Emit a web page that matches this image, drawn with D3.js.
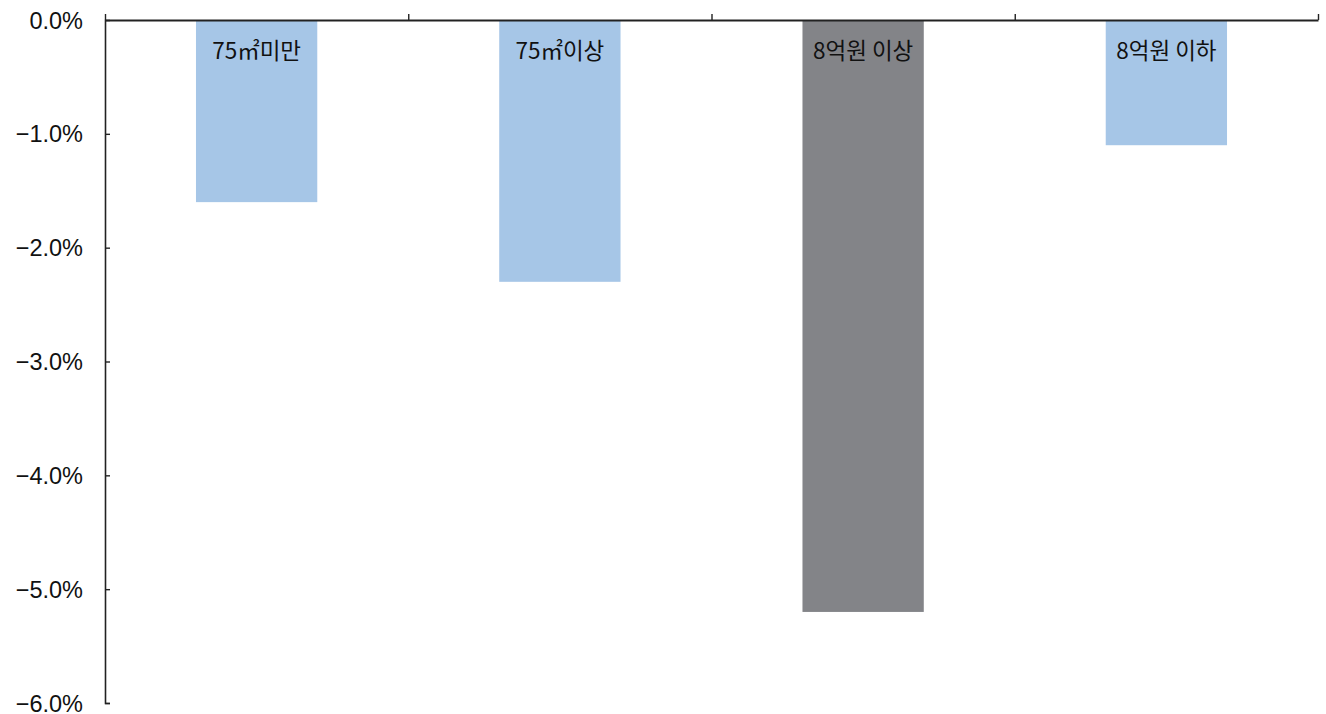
<!DOCTYPE html>
<html><head><meta charset="utf-8">
<script src="https://cdn.jsdelivr.net/npm/d3@7"></script>
<style>body{margin:0;background:#fff}</style>
</head><body>
<svg id="c" width="1326" height="714"></svg>
<script>
const categories = ["75㎡미만", "75㎡이상", "8억원 이상", "8억원 이하"];
const values = [-1.6, -2.3, -5.2, -1.1];
const highlight = [false, false, true, false];
const yTicks = [0, -1, -2, -3, -4, -5, -6];

(function(){
const svg = d3.select("#c");
const mLeft = 105, mRight = 1318, mTop = 20, mBottom = 703;
const x = d3.scaleBand().domain(categories).range([mLeft, mRight]).paddingInner(0).paddingOuter(0);
const y = d3.scaleLinear().domain([0, -6]).range([mTop, mBottom]);

// bars
const bw = x.bandwidth() * 0.4;
svg.selectAll("rect.bar").data(categories).join("rect")
  .attr("class", "bar")
  .attr("x", (d) => x(d) + x.bandwidth()/2 - bw/2)
  .attr("y", y(0))
  .attr("width", bw)
  .attr("height", (d, i) => y(values[i]) - y(0))
  .attr("fill", (d, i) => highlight[i] ? "#838488" : "#A6C6E7");

// y axis
const ya = svg.append("g").attr("transform", `translate(${mLeft},0)`)
  .call(d3.axisRight(y).tickValues(yTicks).tickSize(5).tickFormat(d => (d < 0 ? "\u2212" : "") + Math.abs(d).toFixed(1) + "%"));
ya.attr("font-size", null).attr("font-family", null);
ya.select(".domain").attr("stroke", "#222").attr("stroke-width", 1.6);
ya.selectAll(".tick line").attr("stroke", "#222").attr("stroke-width", 1.4);
ya.selectAll(".tick text").attr("x", -22).attr("text-anchor", "end")
  .style("font-family", "'Liberation Sans', Arial, sans-serif").style("font-size", "23.5px").attr("fill", "#111").attr("dy", "0.34em");
ya.selectAll(".tick").filter(d => d === 0).select("line").remove();

// x axis (top) with ticks at band boundaries
const bounds = categories.map(c => x(c)).concat([mRight]);
const xl = d3.scaleLinear().domain([mLeft, mRight]).range([mLeft, mRight]);
const xa = svg.append("g").attr("transform", `translate(0,${mTop})`)
  .call(d3.axisTop(xl).tickValues(bounds).tickSize(6).tickSizeOuter(0).tickFormat(""));
xa.select(".domain").attr("stroke", "#222").attr("stroke-width", 2);
xa.selectAll(".tick line").attr("stroke", "#222").attr("stroke-width", 1.4);

// category labels
svg.selectAll("text.cat").data(categories).join("text")
  .attr("class", "cat")
  .attr("x", d => x(d) + x.bandwidth()/2)
  .attr("y", 51)
  .attr("dy", "0.36em")
  .attr("text-anchor", "middle")
  .style("font-family", "'Noto Sans CJK KR', sans-serif")
  .style("font-size", "22.5px")
  .attr("fill", "#111")
  .text(d => d);
})();
</script>
</body></html>
